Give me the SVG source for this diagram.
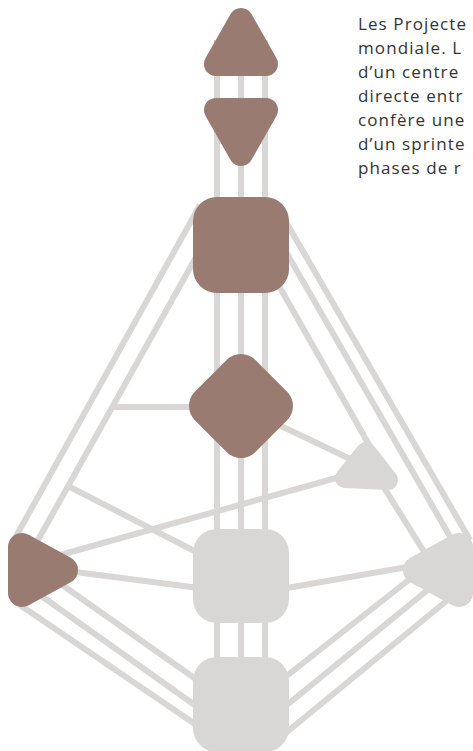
<svg xmlns="http://www.w3.org/2000/svg" width="473" height="751" viewBox="0 0 473 751">
<style>
.ch{stroke:#d9d7d5;stroke-width:6;fill:none}
.br{fill:#9a7b71}
.gr{fill:#d9d7d5}
.tb{fill:#9a7b71;stroke:#9a7b71;stroke-linejoin:round}
.tg{fill:#d9d7d5;stroke:#d9d7d5;stroke-linejoin:round}
.tx{font-family:"Open Sans",Lato,sans-serif;font-size:17px;letter-spacing:1.1px;fill:#333333}
</style>
<rect width="473" height="751" fill="#ffffff"/>
<g id="channels">
<line class="ch" x1="217" y1="40" x2="217" y2="700"/>
<line class="ch" x1="241" y1="40" x2="241" y2="700"/>
<line class="ch" x1="265" y1="40" x2="265" y2="700"/>
<line class="ch" x1="200" y1="205" x2="14" y2="540"/>
<line class="ch" x1="200" y1="250" x2="38" y2="540"/>
<line class="ch" x1="200" y1="407" x2="112" y2="407"/>
<line class="ch" x1="68" y1="486" x2="210" y2="559"/>
<line class="ch" x1="282" y1="215" x2="470" y2="540"/>
<line class="ch" x1="282" y1="245" x2="452" y2="540"/>
<line class="ch" x1="270" y1="270" x2="372" y2="450"/>
<line class="ch" x1="60" y1="555" x2="365" y2="470"/>
<line class="ch" x1="60" y1="570" x2="230" y2="592"/>
<line class="ch" x1="55" y1="580" x2="220" y2="696"/>
<line class="ch" x1="40" y1="595" x2="220" y2="723"/>
<line class="ch" x1="20" y1="605" x2="220" y2="741"/>
<line class="ch" x1="270" y1="591" x2="430" y2="563"/>
<line class="ch" x1="378" y1="478" x2="428" y2="558"/>
<line class="ch" x1="260" y1="416" x2="365" y2="466"/>
<line class="ch" x1="415" y1="575" x2="265" y2="693"/>
<line class="ch" x1="430" y1="588" x2="265" y2="723"/>
<line class="ch" x1="450" y1="598" x2="265" y2="750"/>
</g>
<g id="head"><polygon class="tb" stroke-width="24" points="241,20 216,64 266,64"/></g>
<g id="ajna"><polygon class="tb" stroke-width="24" points="216,110 266,110 241,154"/></g>
<g id="throat"><rect class="br" x="193" y="197" width="96" height="96" rx="24"/></g>
<g id="g-center"><polygon class="tb" stroke-width="40" points="241,374 273,406 241,438 209,406"/></g>
<g id="heart"><polygon class="tg" stroke-width="20" points="366,452 345,478 388,480"/></g>
<g id="spleen"><polygon class="tb" stroke-width="28" points="22,547 22,593 64,570"/></g>
<g id="solar-plexus"><polygon class="tg" stroke-width="28" points="459,547 459,593 417,570"/></g>
<g id="sacral"><rect class="gr" x="193" y="529" width="96" height="94" rx="24"/></g>
<g id="root"><rect class="gr" x="193" y="657" width="96" height="95" rx="24"/></g>
<g id="text">
<text class="tx" x="358" y="30">Les Projecte</text>
<text class="tx" x="358" y="54">mondiale. L</text>
<text class="tx" x="358" y="78">d’un centre</text>
<text class="tx" x="358" y="102">directe entr</text>
<text class="tx" x="358" y="126">confère une</text>
<text class="tx" x="358" y="150">d’un sprinte</text>
<text class="tx" x="358" y="174">phases de r</text>
</g>
</svg>
